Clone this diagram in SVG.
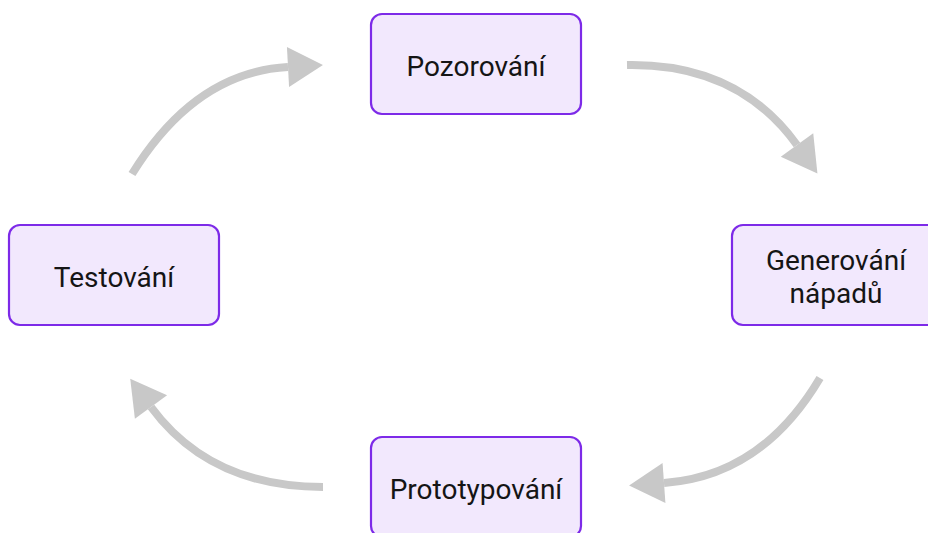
<svg xmlns="http://www.w3.org/2000/svg" width="928" height="533" viewBox="0 0 928 533">
<style>
.box{fill:#f2e8fd;stroke:#7d2ae8;stroke-width:2.2}
.lbl{font-family:Roboto,"Liberation Sans",sans-serif;font-size:28px;fill:#151515;text-anchor:middle;dominant-baseline:central}
.arr{fill:none;stroke:#c8c8c8;stroke-width:8;marker-end:url(#ah)}
</style>
<defs>
<marker id="ah" markerUnits="userSpaceOnUse" markerWidth="40" markerHeight="44" viewBox="0 -22 36 44" refX="0" refY="0" orient="auto">
<path d="M0,-20 L35,0 L0,20 Z" fill="#c8c8c8"/>
</marker>
</defs>
<rect width="928" height="533" fill="#ffffff"/>
<g id="connectors">
<path class="arr" d="M132,174 Q195,72 288,67"/>
<path class="arr" d="M627,65 Q738,63 797,145"/>
<path class="arr" d="M820,378 Q762,476 664,483"/>
<path class="arr" d="M323,487 Q210,487 151,407"/>
</g>
<g id="pozorovani">
<rect class="box" x="371" y="14" width="210" height="100" rx="11"/>
<text class="lbl" x="476" y="66">Pozorování</text>
</g>
<g id="generovani">
<rect class="box" x="732" y="225" width="210" height="100" rx="11"/>
<text class="lbl" x="836" y="260">Generování</text>
<text class="lbl" x="836" y="293">nápadů</text>
</g>
<g id="prototypovani">
<rect class="box" x="371" y="437" width="210" height="100" rx="11"/>
<text class="lbl" x="476" y="489">Prototypování</text>
</g>
<g id="testovani">
<rect class="box" x="9" y="225" width="210" height="100" rx="11"/>
<text class="lbl" x="114" y="277">Testování</text>
</g>
</svg>
